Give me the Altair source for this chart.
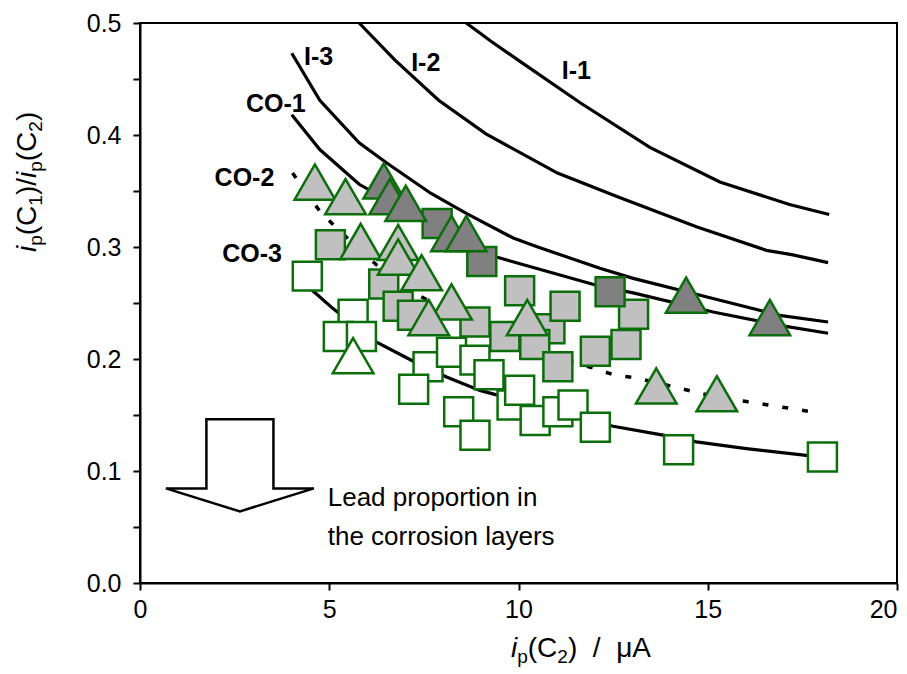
import altair as alt
import pandas as pd

# ---------------- data ----------------
x_ticks = [0, 5, 10, 15, 20]
y_ticks = [0.0, 0.05, 0.1, 0.15, 0.2, 0.25, 0.3, 0.35, 0.4, 0.45, 0.5]

i1_x = [8.62, 9.30, 10.03, 11.62, 13.47, 15.32, 17.16, 18.21]
i1_y = [0.500, 0.483, 0.466, 0.429, 0.389, 0.358, 0.338, 0.329]
i2_x = [5.79, 6.73, 7.89, 9.14, 11.03, 12.60, 14.70, 16.55, 17.25, 18.18]
i2_y = [0.500, 0.467, 0.431, 0.401, 0.366, 0.345, 0.318, 0.297, 0.293, 0.286]
i3_x = [4.01, 4.75, 5.79, 6.52, 7.68, 8.62, 9.86, 10.51, 12.15, 13.03, 15.14, 16.90, 18.18]
i3_y = [0.473, 0.431, 0.393, 0.375, 0.348, 0.330, 0.308, 0.300, 0.281, 0.272, 0.254, 0.239, 0.233]
co1_x = [4.01, 4.75, 5.79, 7.00, 8.20, 9.42, 12.15, 13.03, 15.14, 16.90, 18.18]
co1_y = [0.418, 0.387, 0.356, 0.333, 0.311, 0.291, 0.265, 0.259, 0.242, 0.230, 0.223]
co2_x = [4.03, 4.75, 5.19, 6.25, 7.35, 8.50, 10.00, 11.00, 11.97, 12.50, 13.12, 14.26, 14.83, 16.02, 16.59, 17.16, 17.90]
co2_y = [0.366, 0.332, 0.317, 0.284, 0.257, 0.237, 0.213, 0.201, 0.192, 0.186, 0.183, 0.174, 0.169, 0.162, 0.159, 0.156, 0.152]
co3_x = [4.20, 4.53, 5.10, 6.25, 7.22, 8.10, 8.98, 9.42, 10.50, 11.50, 12.50, 13.82, 14.70, 16.02, 17.60, 18.03]
co3_y = [0.278, 0.262, 0.245, 0.215, 0.198, 0.184, 0.172, 0.168, 0.157, 0.148, 0.140, 0.132, 0.126, 0.120, 0.114, 0.112]

sq_white_x = [4.42, 5.63, 5.24, 5.85, 7.61, 7.23, 8.23, 8.85, 9.22, 9.83, 10.03, 10.44, 11.04, 11.44, 12.03, 8.42, 8.85, 14.23, 18.03]
sq_white_y = [0.274, 0.240, 0.220, 0.220, 0.193, 0.173, 0.206, 0.199, 0.186, 0.159, 0.172, 0.145, 0.153, 0.159, 0.139, 0.153, 0.132, 0.119, 0.1125]
sq_light_x = [5.03, 6.44, 6.82, 7.20, 8.85, 9.64, 10.03, 10.83, 10.43, 11.23, 11.04, 12.03, 13.04, 12.84]
sq_light_y = [0.302, 0.267, 0.247, 0.239, 0.233, 0.220, 0.261, 0.227, 0.213, 0.247, 0.193, 0.207, 0.240, 0.213]
sq_dark_x = [7.85, 9.03, 12.42]
sq_dark_y = [0.321, 0.287, 0.260]
tri_white_x = [5.63]
tri_white_y = [0.203]
tri_light_x = [4.62, 5.43, 5.83, 6.82, 6.82, 7.44, 8.23, 7.63, 10.23, 13.64, 15.24]
tri_light_y = [0.358, 0.345, 0.305, 0.304, 0.291, 0.277, 0.251, 0.237, 0.237, 0.176, 0.169]
tri_dark_x = [6.44, 6.60, 7.02, 8.23, 8.62, 14.43, 16.64]
tri_dark_y = [0.359, 0.345, 0.339, 0.312, 0.312, 0.257, 0.237]

label_text = ["I-1", "I-2", "I-3", "CO-1", "CO-2", "CO-3"]
label_x = [11.53, 7.55, 4.72, 3.59, 2.76, 2.96]
label_y = [0.457, 0.464, 0.4695, 0.428, 0.362, 0.294]

note_lines = ["Lead proportion in", "the corrosion layers"]
note_x = [4.96, 4.96]
note_y = [0.0759, 0.0411]

arrow_x = [2.64]
arrow_y = [0.105]

# ---------------- styling ----------------
FONT = "Liberation Sans"
GREEN = "#0b6e0b"
FILLS = ["white", "light", "dark"]
FILL_COLORS = ["#ffffff", "#c0c0c0", "#808080"]
TRI = "M0,-0.866L1,0.866L-1,0.866Z"
ARROW = "M-0.453,-0.622L0.453,-0.622L0.453,0.311L1,0.311L0,0.622L-1,0.311L-0.453,0.311Z"

# ---------------- tables ----------------
rows = []
for name, xs_, ys_ in [("I-1", i1_x, i1_y), ("I-2", i2_x, i2_y), ("I-3", i3_x, i3_y),
                       ("CO-1", co1_x, co1_y), ("CO-2", co2_x, co2_y), ("CO-3", co3_x, co3_y)]:
    for k, (a, b) in enumerate(zip(xs_, ys_)):
        rows.append({"curve": name, "x": a, "y": b, "k": k})
curves = pd.DataFrame(rows)

def pts(xs_, ys_, fill):
    return [{"x": a, "y": b, "fill": fill} for a, b in zip(xs_, ys_)]

squares = pd.DataFrame(pts(sq_white_x, sq_white_y, "white") + pts(sq_light_x, sq_light_y, "light")
                       + pts(sq_dark_x, sq_dark_y, "dark"))
triangles = pd.DataFrame(pts(tri_white_x, tri_white_y, "white") + pts(tri_light_x, tri_light_y, "light")
                         + pts(tri_dark_x, tri_dark_y, "dark"))
labels = pd.DataFrame({"t": label_text, "x": label_x, "y": label_y})
notes = pd.DataFrame({"t": note_lines, "x": note_x, "y": note_y})
arrow = pd.DataFrame({"x": arrow_x, "y": arrow_y})

xs = alt.Scale(domain=[0, 20], nice=False, zero=False)
ys = alt.Scale(domain=[0, 0.5], nice=False, zero=False)
x_axis = alt.Axis(values=x_ticks, title=None, labelPadding=7, labelFlush=False, labelOverlap=False,
                  labelAlign={"condition": {"test": "datum.value == 20", "value": "right"},
                              "value": "center"})
y_axis = alt.Axis(values=y_ticks, title=None, labelPadding=12, labelFlush=False, labelOverlap=False,
                  labelExpr="(round(datum.value*100) % 10 == 0) ? format(datum.value, '.1f') : ''")
X = alt.X("x:Q", scale=xs, axis=x_axis)
Y = alt.Y("y:Q", scale=ys, axis=y_axis)
fill_enc = alt.Fill("fill:N", scale=alt.Scale(domain=FILLS, range=FILL_COLORS), legend=None)

solid = alt.Chart(curves[curves.curve != "CO-2"]).mark_line(color="black", strokeWidth=3.2).encode(
    x=X, y=Y, detail="curve:N", order="k:Q")
dotted = alt.Chart(curves[curves.curve == "CO-2"]).mark_line(
    color="black", strokeWidth=3.5, strokeDash=[6, 14]).encode(x=X, y=Y, order="k:Q")

sq_layer = alt.Chart(squares).mark_point(shape="square", filled=True, size=840, opacity=1,
                                         strokeWidth=2.5).encode(
    x=X, y=Y, fill=fill_enc, stroke=alt.value(GREEN))
tri_layer = alt.Chart(triangles).mark_point(shape=TRI, filled=True, size=1650, opacity=1,
                                            strokeWidth=2.5).encode(
    x=X, y=Y, fill=fill_enc, stroke=alt.value(GREEN))

lab_layer = alt.Chart(labels).mark_text(font=FONT, fontSize=25, fontWeight="bold", color="black",
                                        align="center", baseline="middle").encode(x=X, y=Y, text="t:N")
note_layer = alt.Chart(notes).mark_text(font=FONT, fontSize=26, color="black",
                                        align="left", baseline="middle").encode(x=X, y=Y, text="t:N")
arrow_layer = alt.Chart(arrow).mark_point(shape=ARROW, filled=True, size=21904, opacity=1,
                                          fill="white", stroke="black", strokeWidth=2.5).encode(x=X, y=Y)

# ---------------- axis titles built from pieces (italic i, subscripts) ----------------
W = {"i": 0.222, "p": 0.556, "(": 0.333, ")": 0.333, "C": 0.722, "1": 0.556, "2": 0.556,
     "/": 0.278, "μ": 0.576, "A": 0.667, " ": 0.278}

def wid(s, size):
    return sum(W[c] for c in s) * size

MAIN, SUB, SHIFT = 28, 19, 6

def pieces_layers(pieces, x0, y0, vertical):
    out = []
    pos = 0.0
    for txt, italic, sub in pieces:
        size = SUB if sub else MAIN
        if txt.strip():
            if vertical:
                px, py, ang = x0 + (SHIFT if sub else 0), y0 - pos, 270
            else:
                px, py, ang = x0 + pos, y0 + (SHIFT if sub else 0), 0
            out.append(alt.Chart(pd.DataFrame({"t": [txt]})).mark_text(
                font=FONT, fontSize=size, fontStyle="italic" if italic else "normal",
                color="black", align="left", baseline="alphabetic", angle=ang).encode(
                text="t:N", x=alt.value(px), y=alt.value(py)))
        pos += wid(txt, size)
    return out

xt = [("i", True, False), ("p", False, True), ("(C", False, False), ("2", False, True),
      (")", False, False), ("  ", False, False), ("/", False, False), ("  ", False, False),
      ("μA", False, False)]
yt = [("i", True, False), ("p", False, True), ("(C", False, False), ("1", False, True),
      (")/", False, False), ("i", True, False), ("p", False, True), ("(C", False, False),
      ("2", False, True), (")", False, False)]

title_layers = pieces_layers(xt, 371, 634, False) + pieces_layers(yt, -104, 229, True)

chart = alt.layer(solid, dotted, sq_layer, tri_layer, lab_layer, arrow_layer, note_layer,
                  *title_layers).properties(
    width=757, height=560,
    padding={"left": 132, "top": 15, "right": 2, "bottom": 88},
    autosize=alt.AutoSizeParams(type="none"),
    background="white",
).configure_view(stroke="black", strokeWidth=2).configure_axis(
    grid=False, domainColor="black", domainWidth=2, tickColor="black", tickWidth=2, tickSize=7,
    labelFont=FONT, labelFontSize=25, labelColor="black")

chart.save("out.html", embed_options={"renderer": "svg", "actions": False})
